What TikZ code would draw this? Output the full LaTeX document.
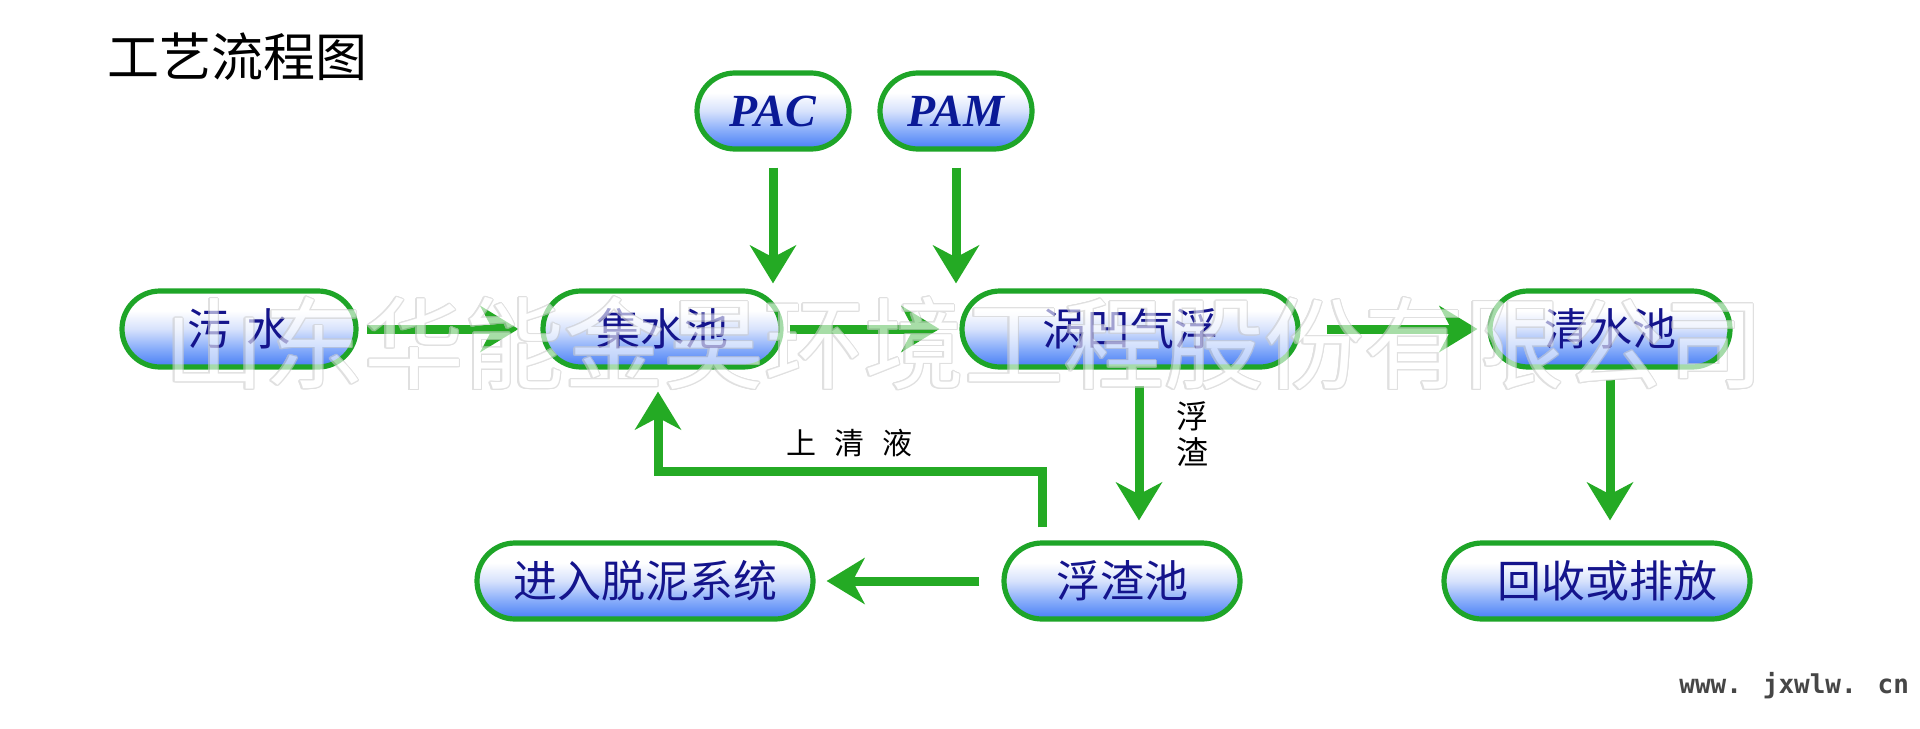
\documentclass[tikz,border=0pt]{standalone}
\usepackage{fontspec}
\setmainfont{Liberation Serif}
\newfontfamily\cjk{Noto Sans CJK SC}
\newfontfamily\monof{DejaVu Sans Mono}
\usepackage{contour}
\usetikzlibrary{arrows.meta,calc}
\definecolor{boxgreen}{RGB}{30,165,40}
\definecolor{arrgreen}{RGB}{36,170,36}
\definecolor{txtblue}{RGB}{20,20,140}
\definecolor{pacblue}{RGB}{10,25,150}
\definecolor{shA}{RGB}{70,125,245}
\definecolor{shB}{RGB}{135,172,250}
\definecolor{shC}{RGB}{215,226,252}
\definecolor{webgray}{RGB}{70,70,70}
\pgfdeclareverticalshading{boxshade}{100bp}{color(0bp)=(shA); color(25bp)=(shA); color(37bp)=(shB); color(50bp)=(shC); color(62bp)=(white); color(100bp)=(white)}
\begin{document}
\begin{tikzpicture}[x=0.5pt,y=-0.5pt,
  box/.style={draw=boxgreen, line width=2.6pt, rounded corners=19pt, shade, shading=boxshade,
    minimum height=38pt, inner sep=0pt, font=\cjk\fontsize{22}{22}\selectfont, text=txtblue},
  chem/.style={box, font=\fontsize{23}{23}\selectfont\bfseries\itshape, text=pacblue},
  flow/.style={draw=arrgreen, line width=4.5pt, -{Stealth[length=19pt,width=23pt,inset=6pt]}},
  lbl/.style={font=\cjk\fontsize{15}{18}\selectfont, text=black, inner sep=0pt},
  wmark/.style={font=\cjk\fontsize{50}{50}\selectfont, inner sep=0pt}]
\fill[white] (0,0) rectangle (1920,728);
\useasboundingbox (0,0) rectangle (1920,728);

\node[anchor=west, inner sep=0pt, font=\cjk\fontsize{26}{26}\selectfont] (title) at (107,57) {工艺流程图};

\node[chem, minimum width=76pt] (pac) at (773,111) {PAC};
\node[chem, minimum width=76pt] (pam) at (956,111) {PAM};

\node[box, minimum width=117pt] (ws) at (239,329) {污\hspace{0.35em}水};
\node[box, minimum width=119pt] (jsc) at (662,329) {集水池};
\node[box, minimum width=168pt] (wo) at (1130,329) {涡凹气浮};
\node[box, minimum width=120pt] (qsc) at (1610,329) {清水池};

\node[box, minimum width=118pt] (fzc) at (1122,581) {浮渣池};
\node[box, minimum width=168pt] (tn) at (645,581) {进入脱泥系统};
\node[box, minimum width=153pt] (hs) at (1597,581) {\hspace{10pt}回收或排放};

\draw[flow, shorten <=4pt, shorten >=11pt] (ws.east) -- (jsc.west);
\draw[flow, shorten <=3pt, shorten >=10pt] (jsc.east) -- (wo.west);
\draw[flow, shorten <=13pt, shorten >=5pt] (wo.east) -- (qsc.west);
\draw[flow, shorten <=8pt, shorten >=2.5pt] (pac.south) -- (pac.south |- jsc.north);
\draw[flow, shorten <=8pt, shorten >=2.5pt] (pam.south) -- (pam.south |- wo.north);
\draw[flow, shorten <=8pt, shorten >=10pt] ([xshift=4.5pt]wo.south) -- ([xshift=4.5pt]wo.south |- fzc.north);
\draw[flow, shorten <=5pt, shorten >=10pt] (qsc.south) -- (qsc.south |- hs.north);
\draw[flow, shorten <=11pt, shorten >=5.5pt] (fzc.west) -- (tn.east);
\draw[flow, shorten <=6.5pt, shorten >=11pt] ([xshift=-40pt]fzc.north) -- ++(0,-69) -| ([xshift=-2pt]jsc.south);

\node[lbl] (sqy) at (849,443) {上\hspace{0.6em}清\hspace{0.6em}液};
\node[lbl, font=\cjk\fontsize{16}{18}\selectfont, align=center] (fz) at (1192,434) {浮\\渣};

\node[anchor=base west, inner sep=0pt, font=\monof\bfseries\fontsize{13}{14}\selectfont, text=webgray] (web) at (1679,693) {www. jxwlw. cn};

\begin{scope}[transparency group, opacity=0.6]
\contourlength{0.6pt}
\node[wmark] (wm) at (964,344) {\color{white}\contour{gray!40}{山东华能金昊环境工程股份有限公司}};
\end{scope}
\end{tikzpicture}
\end{document}
